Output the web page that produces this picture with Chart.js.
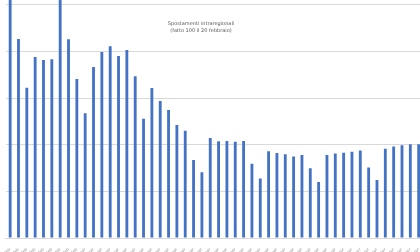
<!DOCTYPE html>
<html>
<head>
<meta charset="utf-8">
<script src="https://cdn.jsdelivr.net/npm/chart.js@4.4.0/dist/chart.umd.min.js"></script>
<style>
  body { margin: 0; background: #fff; }
  #wrap { width: 420px; height: 252px; overflow: hidden; position: relative; }
  #box { width: 423px; height: 252px; position: absolute; left: 0; top: 0; }
</style>
</head>
<body>
<div id="wrap"><div id="box"><canvas id="grafico"></canvas></div></div>
<script>
const giorni = [
  "21-feb", "22-feb", "23-feb", "24-feb", "25-feb", "26-feb", "27-feb", "28-feb", "29-feb",
  "1-mar", "2-mar", "3-mar", "4-mar", "5-mar", "6-mar", "7-mar", "8-mar", "9-mar", "10-mar",
  "11-mar", "12-mar", "13-mar", "14-mar", "15-mar", "16-mar", "17-mar", "18-mar", "19-mar",
  "20-mar", "21-mar", "22-mar", "23-mar", "24-mar", "25-mar", "26-mar", "27-mar", "28-mar",
  "29-mar", "30-mar", "31-mar", "1-apr", "2-apr", "3-apr", "4-apr", "5-apr", "6-apr",
  "7-apr", "8-apr", "9-apr", "10-apr"
];

const spostamenti = [
  104, 85.4, 64.5, 77.7, 76.4, 76.7, 103, 85.3, 68.2,
  53.5, 73.4, 79.8, 82.3, 78.1, 80.7, 69.4, 51.2, 64.3, 58.8,
  54.9, 48.5, 46.0, 33.5, 28.2, 42.9, 41.5, 41.6, 41.3,
  41.6, 31.8, 25.5, 37.2, 36.5, 35.9, 35.0, 35.6, 29.9,
  24.0, 35.6, 36.2, 36.6, 37.0, 37.5, 30.2, 24.9, 38.3,
  39.3, 39.8, 40.2, 40.2
];

const titolo = ["Spostamenti intraregionali", "(fatto 100 il 20 febbraio)"];

// titolo dentro l'area del grafico, come in Excel
const pluginTitolo = {
  id: "titolo",
  afterDraw(chart) {
    const ctx = chart.ctx;
    ctx.save();
    ctx.fillStyle = "#595959";
    ctx.font = "5px 'DejaVu Sans'";
    ctx.textAlign = "center";
    ctx.textBaseline = "middle";
    ctx.fillText(titolo[0], 201, 24);
    ctx.fillText(titolo[1], 201, 30.5);
    ctx.restore();
  }
};

const configuration = {
  type: "bar",
  data: {
    labels: giorni,
    datasets: [
      {
        label: titolo[0],
        data: spostamenti,
        backgroundColor: "#4472c4",
        borderWidth: 0,
        barPercentage: 0.34,
        categoryPercentage: 1,
      },
    ],
  },
  options: {
    responsive: true,
    maintainAspectRatio: false,
    animation: false,
    layout: { padding: 0 },
    plugins: {
      legend: { display: false },
      tooltip: { enabled: false },
    },
    scales: {
      x: {
        grid: { display: false },
        border: { color: "#d9d9d9", width: 1 },
        ticks: {
          autoSkip: false,
          minRotation: 45,
          maxRotation: 45,
          padding: 1,
          color: "#8c8c8c",
          font: { size: 4, family: "DejaVu Sans" },
        },
        afterFit: (scale) => {
          scale.height = 14;
        },
      },
      y: {
        min: 0,
        max: 102.1,
        ticks: { display: false, stepSize: 20, includeBounds: false },
        grid: { color: "#d9d9d9", drawTicks: false },
        border: { display: false },
        afterFit: (scale) => {
          scale.width = 0;
        },
      },
    },
  },
  plugins: [pluginTitolo],
};

const graphique = document.getElementById("grafico");
const chart = new Chart(graphique, configuration);
</script>
</body>
</html>
